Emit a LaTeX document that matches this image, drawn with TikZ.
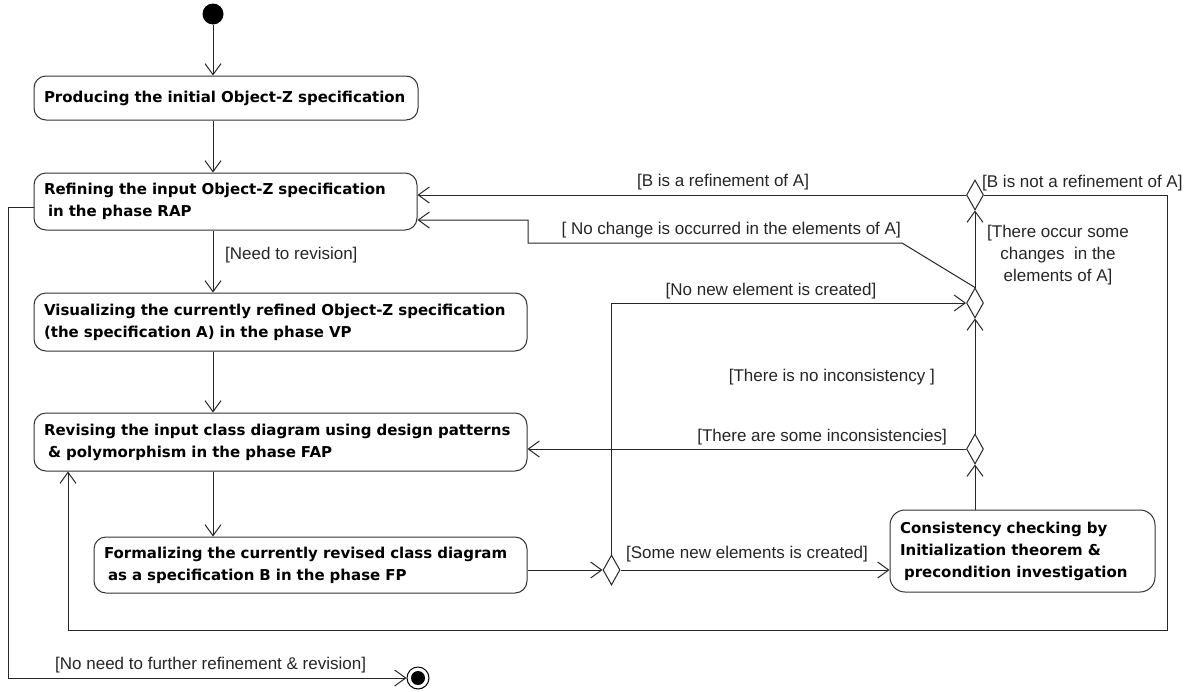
\documentclass[tikz,border=0pt]{standalone}
\usepackage{fontspec}
\usetikzlibrary{shapes.geometric,arrows.meta,calc}
\newfontfamily\boxfont{DejaVu Sans}
\newfontfamily\labfont{Liberation Sans}
\begin{document}
\begin{tikzpicture}[x=1pt,y=-1pt,
  act/.style={draw=black!80, line width=1pt, rounded corners=12pt, inner xsep=10pt, inner ysep=0pt,
    align=left, font=\boxfont\bfseries\fontsize{15}{22}\selectfont},
  dec/.style={diamond, draw=black!85, line width=1pt, minimum width=17pt, minimum height=30pt, inner sep=0pt},
  arr/.style={draw=black!85, line width=1pt, -{Straight Barb[length=11pt,width=16pt,line width=1pt]}},
  ln/.style={draw=black!85, line width=1pt},
  lab/.style={font=\labfont\fontsize{17}{22}\selectfont, inner sep=0pt, text=black!85},
  startn/.style={circle, fill=black, minimum size=21pt, inner sep=0pt},
  endn/.style={circle, draw=black, line width=1pt, minimum size=22pt, inner sep=0pt,
    path picture={\fill[black] (path picture bounding box.center) circle (7pt);}}
]
\useasboundingbox (0,0) rectangle (1196,691);
\fill[white] (0,0) rectangle (1196,691);

\node[startn] (init) at (213,14) {};
\node[act, text width=364pt, minimum height=44pt] (a1) at (226,98)
  {\mbox{Producing the initial Object-Z specification}};
\node[act, text width=363pt, minimum height=57pt] (a2) at (225.5,201.5)
  {\mbox{Refining the input Object-Z specification}\\\mbox{\hspace*{4pt}in the phase RAP}};
\node[act, text width=473pt, minimum height=58pt] (a3) at (280.5,322)
  {\mbox{Visualizing the currently refined Object-Z specification}\\\mbox{(the specification A) in the phase VP}};
\node[act, text width=473pt, minimum height=58pt] (a4) at (280.5,442)
  {\mbox{Revising the input class diagram using design patterns}\\\mbox{\hspace*{4pt}\& polymorphism in the phase FAP}};
\node[act, text width=413pt, minimum height=56pt] (a5) at (310.5,565)
  {\mbox{Formalizing the currently revised class diagram}\\\mbox{\hspace*{4pt}as a specification B in the phase FP}};
\node[act, text width=245pt, minimum height=82pt, rounded corners=15pt] (a6) at (1022.5,551)
  {\mbox{Consistency checking by}\\\mbox{Initialization theorem \&}\\\mbox{\hspace*{4pt}precondition investigation}};

\node[dec] (d1) at (611.5,570) {};
\node[dec] (d2) at (975,449) {};
\node[dec] (d3) at (975,303) {};
\node[dec] (d4) at (975,195) {};
\node[endn] (fin) at (418,678) {};

\coordinate (c1) at (902,243);
\coordinate (c2) at (528,243);
\coordinate (c3) at (528,220);
\coordinate (rr) at (1167,630);
\coordinate (ll) at (68,630);
\coordinate (lt) at (8,207);
\coordinate (lb) at (8,678);

% main flow
\draw[arr] (init) -- (init |- a1.north);
\draw[arr] (a1.south -| init) -- (a2.north -| init);
\draw[arr] (a2.south -| init) -- (a3.north -| init);
\draw[arr] (a3.south -| init) -- (a4.north -| init);
\draw[arr] (a4.south -| init) -- (a5.north -| init);
\draw[arr] (a5.east |- d1) -- (d1.west);
\draw[arr] (d1.east) -- (d1.east -| a6.west);
\draw[arr] (d1.north) |- (d3.west);
\draw[arr] (a6.north -| d2) -- (d2.south);
\draw[arr] (d2.west) -- (d2.west -| a4.east);
\draw[arr] (d2.north) -- (d3.south);
\draw[arr] (d3.north) -- (c1) -- (c2) -- (c3) -- (c3 -| a2.east);
\draw[arr] (d3.north) -- (d4.south);
\draw[arr] (d4.west) -- (d4.west -| a2.east);
\draw[arr] (d4.east) -- (d4.east -| rr) -- (rr) -- (ll) -- (ll |- a4.south);
\draw[arr] (lt -| a2.west) -- (lt) -- (lb) -- (fin.west);

% guards
\node[lab, anchor=west] (g1) at (225,255) {[Need to revision]};
\node[lab] (g2) at (723,182) {[B is a refinement of A]};
\node[lab, anchor=east] (g3) at (901,230) {[ No change is occurred in the elements of A]};
\node[lab] (g4) at (771,291) {[No new element is created]};
\node[lab, anchor=east] (g5) at (935,377) {[There is no inconsistency ]};
\node[lab, anchor=east] (g6) at (947,437) {[There are some inconsistencies]};
\node[lab] (g7) at (747,554) {[Some new elements is created]};
\node[lab, align=center] (g8) at (1058,255) {[There occur some\\changes\ \ in the\\elements of A]};
\node[lab, anchor=west] (g9) at (982,183) {[B is not a refinement of A]};
\node[lab, anchor=west] (g10) at (55,665) {[No need to further refinement \& revision]};
\end{tikzpicture}
\end{document}
